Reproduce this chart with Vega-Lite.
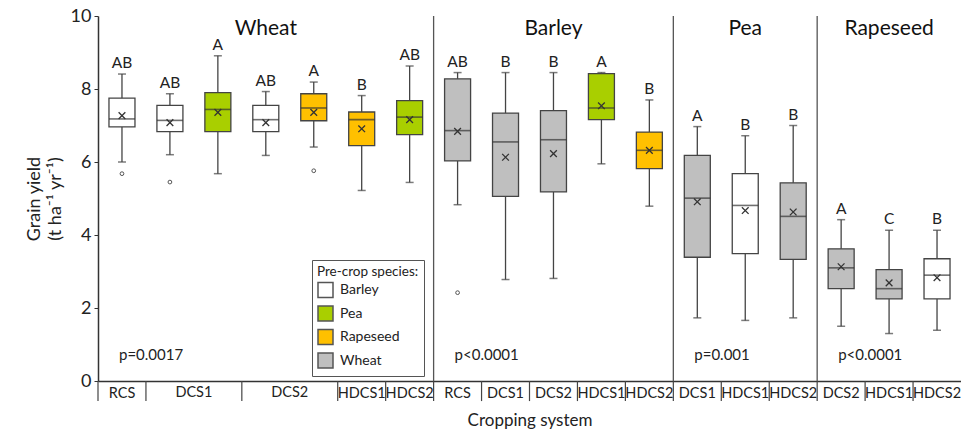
{
  "$schema": "https://vega.github.io/schema/vega-lite/v6.json",
  "width": 863,
  "height": 365,
  "autosize": {"type": "none"},
  "padding": {"left": 98, "top": 16, "right": 0, "bottom": 51},
  "background": "white",
  "config": {"view": {"stroke": null}, "font": "Lato", "axis": {"grid": false, "labelOverlap": false}, "axisY": {"labelOverlap": false}},
  "datasets": {
    "boxes": [
      {"id": "W-RCS", "pre": "Barley", "lw": 6.00, "q1": 6.96, "med": 7.18, "q3": 7.75, "uw": 8.41, "mean": 7.27, "out": 5.68, "letter": "AB"},
      {"id": "W-DCS1-a", "pre": "Barley", "lw": 6.20, "q1": 6.83, "med": 7.14, "q3": 7.55, "uw": 7.87, "mean": 7.08, "out": 5.45, "letter": "AB"},
      {"id": "W-DCS1-b", "pre": "Pea", "lw": 5.68, "q1": 6.83, "med": 7.44, "q3": 7.90, "uw": 8.91, "mean": 7.36, "out": null, "letter": "A"},
      {"id": "W-DCS2-a", "pre": "Barley", "lw": 6.18, "q1": 6.83, "med": 7.16, "q3": 7.55, "uw": 7.93, "mean": 7.08, "out": null, "letter": "AB"},
      {"id": "W-DCS2-b", "pre": "Rapeseed", "lw": 6.41, "q1": 7.13, "med": 7.48, "q3": 7.87, "uw": 8.19, "mean": 7.36, "out": 5.76, "letter": "A"},
      {"id": "W-HDCS1", "pre": "Rapeseed", "lw": 5.22, "q1": 6.45, "med": 7.16, "q3": 7.37, "uw": 7.82, "mean": 6.91, "out": null, "letter": "B"},
      {"id": "W-HDCS2", "pre": "Pea", "lw": 5.44, "q1": 6.75, "med": 7.23, "q3": 7.68, "uw": 8.63, "mean": 7.16, "out": null, "letter": "AB"},
      {"id": "B-RCS", "pre": "Wheat", "lw": 4.83, "q1": 6.03, "med": 6.86, "q3": 8.28, "uw": 8.45, "mean": 6.84, "out": 2.42, "letter": "AB"},
      {"id": "B-DCS1", "pre": "Wheat", "lw": 2.78, "q1": 5.06, "med": 6.55, "q3": 7.34, "uw": 8.45, "mean": 6.13, "out": null, "letter": "B"},
      {"id": "B-DCS2", "pre": "Wheat", "lw": 2.81, "q1": 5.18, "med": 6.61, "q3": 7.41, "uw": 8.45, "mean": 6.23, "out": null, "letter": "B"},
      {"id": "B-HDCS1", "pre": "Pea", "lw": 5.95, "q1": 7.16, "med": 7.48, "q3": 8.42, "uw": 8.45, "mean": 7.54, "out": null, "letter": "A"},
      {"id": "B-HDCS2", "pre": "Rapeseed", "lw": 4.79, "q1": 5.82, "med": 6.32, "q3": 6.82, "uw": 7.70, "mean": 6.32, "out": null, "letter": "B"},
      {"id": "P-DCS1", "pre": "Wheat", "lw": 1.73, "q1": 3.39, "med": 5.01, "q3": 6.18, "uw": 6.97, "mean": 4.91, "out": null, "letter": "A"},
      {"id": "P-HDCS1", "pre": "Barley", "lw": 1.66, "q1": 3.49, "med": 4.81, "q3": 5.68, "uw": 6.72, "mean": 4.67, "out": null, "letter": "B"},
      {"id": "P-HDCS2", "pre": "Wheat", "lw": 1.73, "q1": 3.33, "med": 4.51, "q3": 5.43, "uw": 7.00, "mean": 4.63, "out": null, "letter": "B"},
      {"id": "R-DCS2", "pre": "Wheat", "lw": 1.50, "q1": 2.53, "med": 3.10, "q3": 3.62, "uw": 4.42, "mean": 3.13, "out": null, "letter": "A"},
      {"id": "R-HDCS1", "pre": "Wheat", "lw": 1.30, "q1": 2.25, "med": 2.53, "q3": 3.05, "uw": 4.13, "mean": 2.69, "out": null, "letter": "C"},
      {"id": "R-HDCS2", "pre": "Barley", "lw": 1.39, "q1": 2.25, "med": 2.90, "q3": 3.35, "uw": 4.13, "mean": 2.83, "out": null, "letter": "B"}
    ],
    "dividers": [{"id": "B-RCS"}, {"id": "P-DCS1"}, {"id": "R-DCS2"}],
    "seps": [
      {"id": "W-RCS"}, {"id": "W-DCS1-a"}, {"id": "W-DCS2-a"}, {"id": "W-HDCS1"}, {"id": "W-HDCS2"},
      {"id": "B-RCS"}, {"id": "B-DCS1"}, {"id": "B-DCS2"}, {"id": "B-HDCS1"}, {"id": "B-HDCS2"},
      {"id": "P-DCS1"}, {"id": "P-HDCS1"}, {"id": "P-HDCS2"},
      {"id": "R-DCS2"}, {"id": "R-HDCS1"}, {"id": "R-HDCS2"}
    ],
    "titles": [
      {"id": "W-DCS2-a", "label": "Wheat"},
      {"id": "B-DCS2", "label": "Barley"},
      {"id": "P-HDCS1", "label": "Pea"},
      {"id": "R-HDCS1", "label": "Rapeseed"}
    ],
    "pvals": [
      {"id": "W-RCS", "label": "p=0.0017"},
      {"id": "B-RCS", "label": "p<0.0001"},
      {"id": "P-DCS1", "label": "p=0.001"},
      {"id": "R-DCS2", "label": "p<0.0001"}
    ],
    "grouplabels": [
      {"id": "W-DCS1-a", "label": "DCS1"},
      {"id": "W-DCS2-a", "label": "DCS2"}
    ]
  },
  "data": {"name": "boxes"},
  "encoding": {
    "x": {
      "field": "id",
      "type": "nominal",
      "sort": null,
      "scale": {
        "domain": ["W-RCS", "W-DCS1-a", "W-DCS1-b", "W-DCS2-a", "W-DCS2-b", "W-HDCS1", "W-HDCS2", "B-RCS", "B-DCS1", "B-DCS2", "B-HDCS1", "B-HDCS2", "P-DCS1", "P-HDCS1", "P-HDCS2", "R-DCS2", "R-HDCS1", "R-HDCS2"],
        "paddingInner": 0,
        "paddingOuter": 0
      },
      "axis": {
        "title": "Cropping system",
        "titleFontSize": 17,
        "titleFontWeight": "normal",
        "titleColor": "#222",
        "titlePadding": 13,
        "labelAngle": 0,
        "labelExpr": "indexof(datum.value, '-a') > 0 || indexof(datum.value, '-b') > 0 ? '' : split(datum.value, '-')[1]",
        "labelFontSize": 14.5,
        "labelColor": "#222",
        "labelPadding": 5,
        "labelOverlap": false,
        "ticks": false,
        "domainColor": "#333",
        "domainWidth": 1.5
      }
    }
  },
  "layer": [
    {
      "mark": {"type": "rule", "color": "#444", "strokeWidth": 1.3},
      "encoding": {
        "y": {
          "field": "lw", "type": "quantitative",
          "scale": {"domain": [0, 10], "nice": false},
          "axis": {
            "title": ["Grain yield", "(t ha⁻¹ yr⁻¹)"],
            "titleFontSize": 18,
            "titleLineHeight": 21,
            "titleFontWeight": "normal",
            "titleColor": "#222",
            "titlePadding": 6,
            "values": [0, 1, 2, 3, 4, 5, 6, 7, 8, 9, 10],
            "tickCount": 10,
            "labelOverlap": false,
            "labelFontSize": 18,
            "labelColor": "#222",
            "labelPadding": 3,
            "tickSize": 4,
            "tickColor": "#333",
            "domainColor": "#333",
            "domainWidth": 1.5
          }
        },
        "y2": {"field": "uw"}
      }
    },
    {
      "mark": {"type": "tick", "color": "#444", "size": 8, "thickness": 1.5},
      "encoding": {"y": {"field": "lw", "type": "quantitative"}}
    },
    {
      "mark": {"type": "tick", "color": "#444", "size": 8, "thickness": 1.5},
      "encoding": {"y": {"field": "uw", "type": "quantitative"}}
    },
    {
      "mark": {"type": "bar", "size": 26, "stroke": "#444", "strokeWidth": 1.3},
      "encoding": {
        "y": {"field": "q1", "type": "quantitative"},
        "y2": {"field": "q3"},
        "fill": {
          "field": "pre", "type": "nominal",
          "scale": {"domain": ["Barley", "Pea", "Rapeseed", "Wheat"], "range": ["#ffffff", "#a9cf00", "#ffc000", "#bfbfbf"]},
          "legend": {
            "title": "Pre-crop species:",
            "orient": "none",
            "legendX": 214,
            "legendY": 244,
            "direction": "vertical",
            "strokeColor": "#555",
            "padding": 5,
            "titleFontSize": 13.5,
            "titleFontWeight": "normal",
            "titleColor": "#222",
            "titlePadding": 3,
            "labelFontSize": 14,
            "labelColor": "#222",
            "labelOffset": 6,
            "symbolType": "square",
            "symbolSize": 225,
            "symbolStrokeColor": "#555",
            "symbolStrokeWidth": 1.5,
            "rowPadding": 2.5
          }
        }
      }
    },
    {
      "mark": {"type": "tick", "color": "#333", "size": 26, "thickness": 1.6},
      "encoding": {"y": {"field": "med", "type": "quantitative"}}
    },
    {
      "mark": {"type": "point", "shape": "M-1,-1L1,1M-1,1L1,-1", "size": 45, "filled": false, "stroke": "#333", "strokeWidth": 1.3, "opacity": 1},
      "encoding": {"y": {"field": "mean", "type": "quantitative"}}
    },
    {
      "mark": {"type": "point", "shape": "circle", "size": 14, "filled": false, "stroke": "#555", "strokeWidth": 1, "opacity": 1},
      "encoding": {"y": {"field": "out", "type": "quantitative"}}
    },
    {
      "mark": {"type": "text", "baseline": "alphabetic", "dy": -6, "fontSize": 15.5, "color": "#222"},
      "encoding": {
        "y": {"field": "uw", "type": "quantitative"},
        "text": {"field": "letter"}
      }
    },
    {
      "data": {"name": "dividers"},
      "mark": {"type": "rule", "color": "#555", "strokeWidth": 1.3},
      "encoding": {
        "x": {"field": "id", "type": "nominal", "bandPosition": 0},
        "y": {"datum": 0, "type": "quantitative"},
        "y2": {"datum": 10}
      }
    },
    {
      "data": {"name": "seps"},
      "mark": {"type": "rule", "color": "#444", "strokeWidth": 1.2},
      "encoding": {
        "x": {"field": "id", "type": "nominal", "bandPosition": 0},
        "y": {"datum": 0, "type": "quantitative"},
        "y2": {"datum": -0.55}
      }
    },
    {
      "data": {"name": "titles"},
      "mark": {"type": "text", "baseline": "middle", "fontSize": 21, "color": "#111"},
      "encoding": {
        "y": {"datum": 9.64, "type": "quantitative"},
        "text": {"field": "label"}
      }
    },
    {
      "data": {"name": "pvals"},
      "mark": {"type": "text", "baseline": "middle", "align": "left", "dx": -3, "fontSize": 15, "color": "#222"},
      "encoding": {
        "y": {"datum": 0.7, "type": "quantitative"},
        "text": {"field": "label"}
      }
    },
    {
      "data": {"name": "grouplabels"},
      "mark": {"type": "text", "baseline": "middle", "fontSize": 14.5, "color": "#222"},
      "encoding": {
        "x": {"field": "id", "type": "nominal", "bandPosition": 1},
        "y": {"datum": -0.34, "type": "quantitative"},
        "text": {"field": "label"}
      }
    }
  ]
}
